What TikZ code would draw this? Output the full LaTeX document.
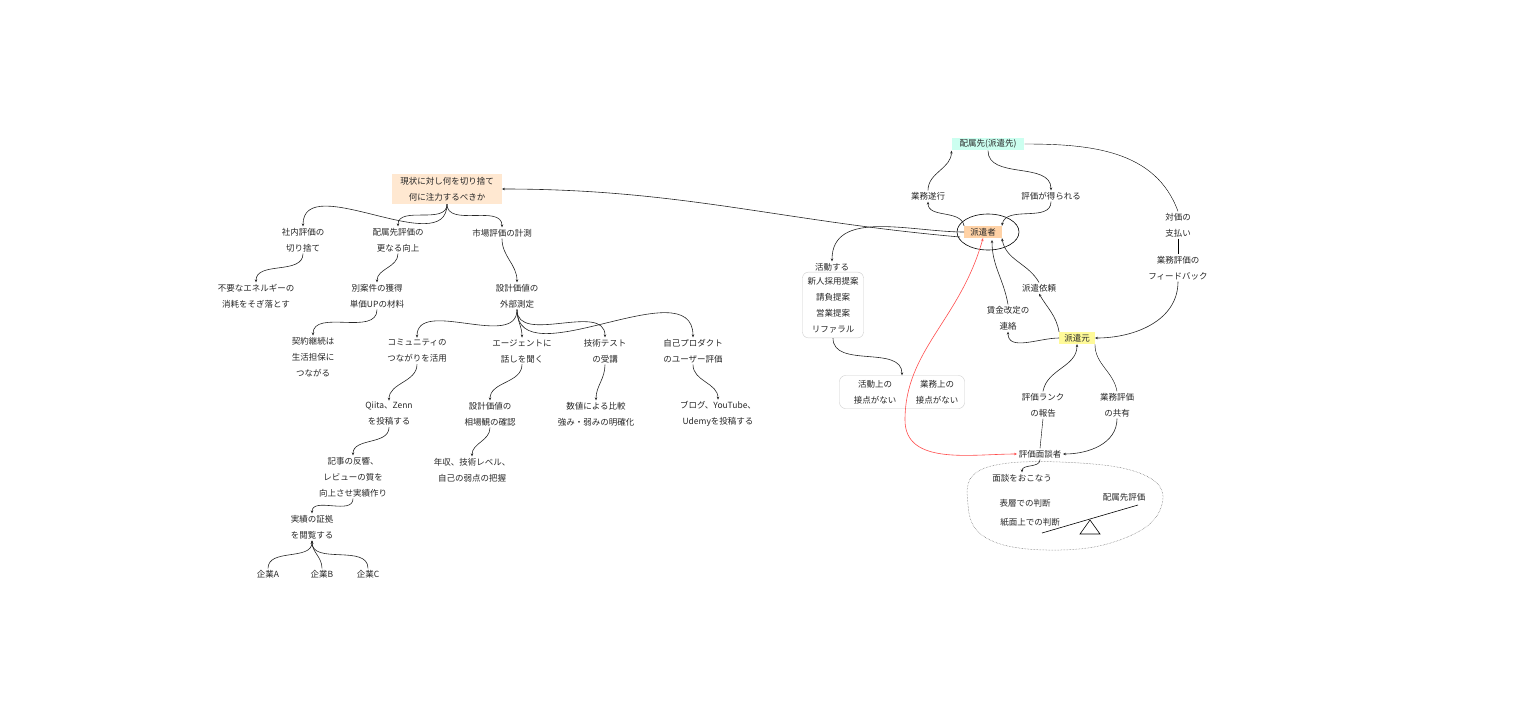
\documentclass[tikz,border=0pt]{standalone}
\usepackage{fontspec}
\setmainfont{Noto Sans CJK JP}
\usetikzlibrary{arrows.meta,shapes.geometric}
\begin{document}
\begin{tikzpicture}[x=1pt,y=-1pt,
  t/.style={align=center,font=\fontsize{8.5}{16}\selectfont,inner sep=1.5pt,text=black!85},
  box/.style={t,inner xsep=8pt,inner ysep=3pt},
  rb/.style={t,draw=black!20,rounded corners=6pt,inner sep=5pt},
  c/.style={draw=black!85,line width=0.6pt,-{Stealth[length=3pt,width=2.5pt]}},
  rd/.style={draw=red!70,line width=0.6pt,{Stealth[length=3pt,width=2.5pt]}-{Stealth[length=3pt,width=2.5pt]}}]
\useasboundingbox (0,0) rectangle (1534,702);
% left tree
\node[box,fill=orange!18] (root) at (447,189) {現状に対し何を切り捨て\\何に注力するべきか};
\node[t] (a1) at (303,240) {社内評価の\\切り捨て};
\node[t] (a2) at (398,240) {配属先評価の\\更なる向上};
\node[t] (a3) at (502,233) {市場評価の計測};
\node[t] (b1) at (256,296) {不要なエネルギーの\\消耗をそぎ落とす};
\node[t] (b2) at (377,296) {別案件の獲得\\単価UPの材料};
\node[t] (b3) at (517,296) {設計価値の\\外部測定};
\node[t] (c1) at (313,357) {契約継続は\\生活担保に\\つながる};
\node[t] (c2) at (417,351) {コミュニティの\\つながりを活用};
\node[t] (c3) at (522,351) {エージェントに\\話しを聞く};
\node[t] (c4) at (605,351) {技術テスト\\の受講};
\node[t] (c5) at (693,351) {自己プロダクト\\のユーザー評価};
\node[t] (d1) at (389,414) {Qiita、Zenn\\を投稿する};
\node[t] (d2) at (490,414) {設計価値の\\相場観の確認};
\node[t] (d3) at (596,414) {数値による比較\\強み・弱みの明確化};
\node[t] (d4) at (718,414) {ブログ、YouTube、\\Udemyを投稿する};
\node[t] (e1) at (353,477) {記事の反響、\\レビューの質を\\向上させ実績作り};
\node[t] (e2) at (472,470) {年収、技術レベル、\\自己の弱点の把握};
\node[t] (f1) at (312,527) {実績の証拠\\を閲覧する};
\node[t] (gA) at (268,574) {企業A};
\node[t] (gB) at (322,574) {企業B};
\node[t] (gC) at (368,574) {企業C};
\foreach \p/\q in {root/a1,root/a2,root/a3,a1/b1,a2/b2,a3/b3,b2/c1,b3/c2,b3/c3,b3/c4,b3/c5,c2/d1,c3/d2,c4/d3,c5/d4,d1/e1,d2/e2,e1/f1}
  \draw[c] (\p.south) to[out=-90,in=90] (\q.north);
\foreach \p in {gA,gB,gC} \draw[c] (\p.north) to[out=90,in=-90] (f1.south);
% right part
\node[box,fill=green!30!cyan!20,inner ysep=2pt] (hs) at (988,144) {配属先(派遣先)};
\node[t] (gs) at (928,196) {業務遂行};
\node[t] (ev) at (1051,196) {評価が得られる};
\node[box,fill=orange!35,inner xsep=6pt,inner ysep=2pt] (hk) at (983,232) {派遣者};
\draw[line width=0.6pt] (988,232) ellipse [x radius=31, y radius=18];
\node[t] (kd) at (832,267) {活動する};
\node[rb] (ks) at (833,305) {新人採用提案\\請負提案\\営業提案\\リファラル};
\node[rb,minimum width=125pt,minimum height=33pt] (sp) at (902,392) {};
\node[t] at (875,392) {活動上の\\接点がない};
\node[t] at (937,392) {業務上の\\接点がない};
\node[t] (iy) at (1039,288) {派遣依頼};
\node[t] (cg) at (1008,318) {賃金改定の\\連絡};
\node[t] (tk) at (1178,225) {対価の\\支払い};
\node[t] (fb) at (1178,268) {業務評価の\\フィードバック};
\node[box,fill=yellow!40,inner xsep=5pt,inner ysep=2pt] (hm) at (1077,338) {派遣元};
\node[t] (rk) at (1043,405) {評価ランク\\の報告};
\node[t] (ky) at (1117,405) {業務評価\\の共有};
\node[t] (md) at (1040,454) {評価面談者};
\node[t] (mo) at (1022,478) {面談をおこなう};
\node[t] (hy) at (1025,503) {表層での判断};
\node[t] (sm) at (1030,522) {紙面上での判断};
\node[t] (hk2) at (1124,497) {配属先評価};
\draw[line width=0.6pt] (1042,533) -- (1138,505);
\draw[line width=0.6pt] (1090,520) -- (1080,534) -- (1100,534) -- cycle;
\draw[densely dotted,black!60,line width=0.5pt] plot[smooth cycle,tension=0.7] coordinates {(985,468) (1080,463) (1150,478) (1160,510) (1125,538) (1060,550) (990,540) (968,505)};
\draw[c] (hk.north west) to[out=100,in=-90] (gs.south);
\draw[c] (gs.north) to[out=90,in=-90] (hs.south west);
\draw[c] (hs.south) to[out=-90,in=90] (ev.north);
\draw[c] (ev.south) to[out=-90,in=80] (hk.north east);
\draw[c] (960,237) to[out=175,in=0] (root.east);
\draw[c] (hk.west) to[out=180,in=90] (kd.north);
\draw[c] (ks.south) to[out=-90,in=90] (sp.north);
\draw[rd] (hk.south) .. controls (960,320) and (905,350) .. (905,420) to[out=-90,in=180] (md.west);
\draw[c] (hm.north west) to[out=100,in=-60] (iy.south);
\draw[c] (iy.north) to[out=120,in=-80] (hk.south east);
\draw[c] (hm.west) to[out=180,in=-90] (cg.south);
\draw[c] (cg.north) to[out=100,in=-90] (992,240);
\draw (hs.east) to[out=0,in=110] (tk.north);
\draw (tk.south) -- (fb.north);
\draw[c] (fb.south) to[out=-90,in=0] (hm.east);
\draw[c] (rk.north) to[out=80,in=-90] (hm.south);
\draw (hm.south east) to[out=-90,in=100] (ky.north);
\draw[c] (ky.south) to[out=-90,in=0] (md.east);
\draw (rk.south) -- (md.north);
\draw[c] (md.south) to[out=-90,in=90] (mo.north);
\end{tikzpicture}
\end{document}
